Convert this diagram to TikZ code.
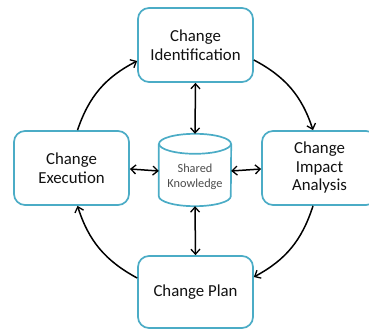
\documentclass[tikz,border=0pt]{standalone}
\usepackage{fontspec}
\setmainfont{Carlito}
\usetikzlibrary{arrows.meta}
\definecolor{boxblue}{HTML}{4BACC6}
\definecolor{txt}{HTML}{111111}
\begin{document}
\begin{tikzpicture}[x=1pt,y=1pt,
  stagebox/.style={draw=boxblue,line width=1.7pt,rounded corners=11pt,fill=white,
    minimum width=115pt,minimum height=74pt,align=center,text=txt,
    font=\fontsize{16.8}{18.5}\selectfont,inner sep=0pt},
  cyl/.style={draw=boxblue,line width=1.7pt},
  flow/.style={line width=1.5pt,-{Straight Barb[length=5pt,width=9pt,line width=1.3pt]}},
  link/.style={line width=1.5pt,{Straight Barb[length=5pt,width=9pt,line width=1.3pt]}-{Straight Barb[length=5pt,width=9pt,line width=1.3pt]}}]
\useasboundingbox (0,0) rectangle (369,331);
\node[stagebox] (top) at (195.5,286) {Change\\Identification};
\node[stagebox] (left) at (71.5,163) {Change\\Execution};
\node[stagebox] (right) at (319.5,163) {Change\\Impact\\Analysis};
\node[stagebox,minimum height=72pt] (bot) at (195.5,39) {Change Plan};
% shared knowledge cylinder
\node[minimum width=72pt,minimum height=72pt,inner sep=0pt] (sk) at (195,161) {};
\draw[cyl] ([yshift=-10]sk.north west) -- ([yshift=10]sk.south west)
  arc[start angle=180,end angle=360,x radius=36,y radius=10]
  -- ([yshift=-10]sk.north east);
\draw[cyl] ([yshift=-10]sk.north) ellipse[x radius=36,y radius=10];
\node[align=center,text=txt!75,font=\fontsize{12.3}{14.5}\selectfont,inner sep=0pt]
  (skl) at ([yshift=-7]sk.center) {Shared\\Knowledge};
% links
\draw[link] (top.south) -- (sk.north);
\draw[link] (sk.south) -- (bot.north);
\draw[link] ([yshift=-1]left.east) -- ([yshift=-1]sk.west);
\draw[link] ([yshift=-1]sk.east) -- ([yshift=-1]right.west);
% cycle
\draw[flow] ([yshift=-15]top.east) to[bend left=22] ([xshift=-6.5]right.north);
\draw[flow] ([xshift=-6.5]right.south) to[bend left=22] ([yshift=15]bot.east);
\draw[flow] ([yshift=14]bot.west) to[bend left=22] ([xshift=6]left.south);
\draw[flow] ([xshift=6]left.north) to[bend left=22] ([yshift=-16]top.west);
\end{tikzpicture}
\end{document}
